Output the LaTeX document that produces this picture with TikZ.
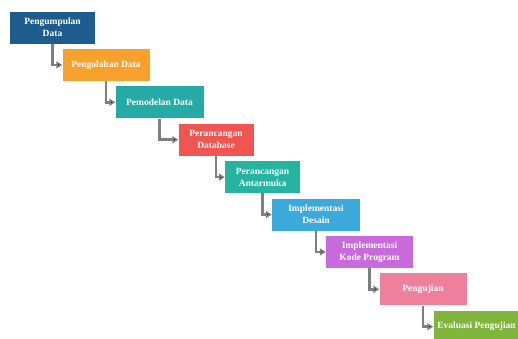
\documentclass[tikz,border=0pt]{standalone}
\usepackage{fontspec}
\setmainfont{Liberation Serif}
\usetikzlibrary{positioning,arrows.meta}
\definecolor{stepA}{HTML}{1F5C8E}
\definecolor{stepB}{HTML}{F7A12C}
\definecolor{stepC}{HTML}{25AAA8}
\definecolor{stepD}{HTML}{F05551}
\definecolor{stepE}{HTML}{24B4A0}
\definecolor{stepF}{HTML}{3BA9DA}
\definecolor{stepG}{HTML}{C86ADB}
\definecolor{stepH}{HTML}{EE7F9D}
\definecolor{stepI}{HTML}{7FB53A}
\definecolor{linkgray}{HTML}{7F7F7F}

\begin{document}
\begin{tikzpicture}[x=1pt, y=1pt, node distance = 37.4pt and 53.5pt, on grid,
phase/.style ={rectangle, text = white, font = \fontsize{9.5}{12}\selectfont\bfseries, align = center, inner sep = 0pt, minimum width = 87pt, minimum height = 32pt},
link/.style ={-{Triangle[length=6pt, width=7pt]}, draw = linkgray, line width = 2.5pt, to path = {|- (\tikztotarget)}}]
\useasboundingbox (0,0) rectangle (518,-338);
\node[phase, fill = stepA, minimum width = 85pt] (A) at (52.5,-27.5) {Pengumpulan\\Data};
\node[phase, fill = stepB] (B) [below right = of A] {Pengolahan Data};
\node[phase, fill = stepC, minimum width = 88pt] (C) [below right = of B] {Pemodelan Data};
\node[phase, fill = stepD, minimum width = 75pt] (D) [below right = 37.4pt and 56.5pt of C] {Perancangan\\Database};
\node[phase, fill = stepE, minimum width = 75pt] (E) [below right = 37.4pt and 46.5pt of D] {Perancangan\\Antarmuka};
\node[phase, fill = stepF, minimum width = 88pt] (F) [below right = of E] {Implementasi\\Desain};
\node[phase, fill = stepG] (G) [below right = of F] {Implementasi\\Kode Program};
\node[phase, fill = stepH] (H) [below right = of G] {Pengujian};
\node[phase, fill = stepI, minimum width = 86pt] (I) [below right = of H] {Evaluasi Pengujian};

\path[link] (A) edge (B)
      (B) edge (C)
      (C) edge (D)
      (D) edge (E)
      (E) edge (F)
      (F) edge (G)
      (G) edge (H)
      (H) edge (I);
\end{tikzpicture}
\end{document}
